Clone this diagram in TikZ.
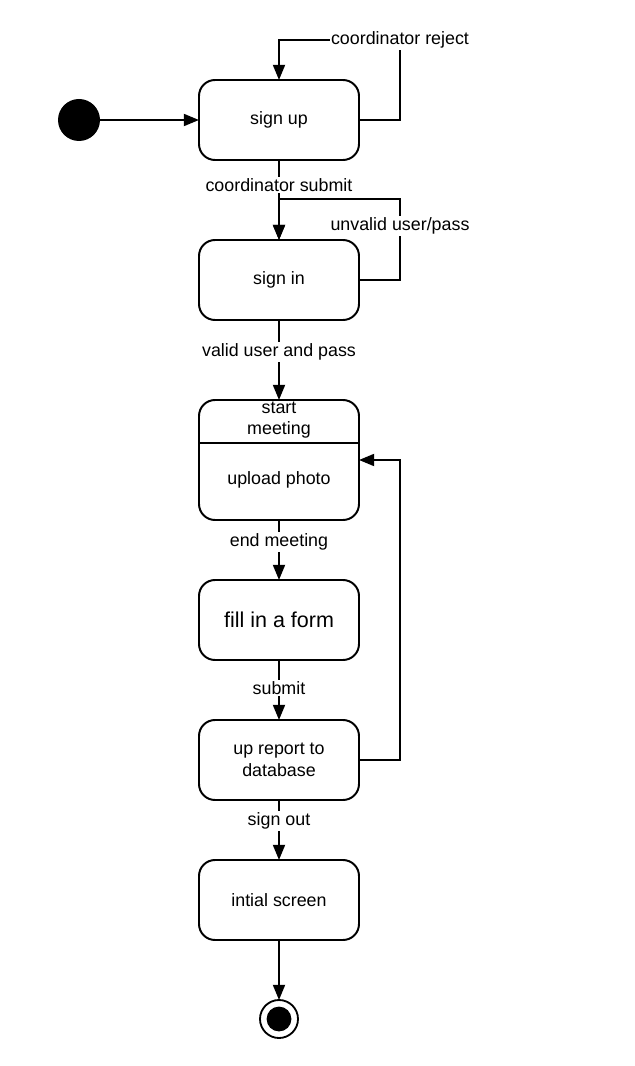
\documentclass[tikz,border=0pt]{standalone}
\usepackage{fontspec}
\setmainfont{Liberation Sans}
\usetikzlibrary{positioning}
\usetikzlibrary{arrows.meta}

\tikzset{
  statebox/.style={draw, line width=1.4pt, outer sep=0pt, rounded corners=0.4cm, minimum width=4cm, minimum height=2cm, align=center, font=\fontsize{12.7}{15.5}\selectfont},
  flow/.style={-{Triangle[length=0.38cm,width=0.3cm]}, line width=1.4pt},
  lbl/.style={fill=white, inner sep=1pt, font=\fontsize{12.7}{15.5}\selectfont},
}

\begin{document}
\begin{tikzpicture}
  \useasboundingbox (0,0) rectangle (15.85,-26.65);
  % nodes %
  \node[circle, fill, minimum size=1.05cm, inner sep=0] (start) at (1.975,-3) {};
  \node[statebox] (signup) at (6.975,-3) {sign up};
  \node[statebox, below=2 of signup] (signin) {sign in};
  \node[statebox, minimum height=3cm, below=2 of signin] (meeting) {};
  \node[lbl, fill=none, align=center] (meetingtop) at ([yshift=-0.5cm]meeting.north) {start\\meeting};
  \node[lbl, fill=none] (meetingbody) at ([yshift=-2cm]meeting.north) {upload photo};
  \node[statebox, below=1.5 of meeting, font=\fontsize{15.3}{19}\selectfont] (form) {fill in a form};
  \node[statebox, below=1.5 of form] (report) {up report to\\database};
  \node[statebox, below=1.5 of report] (screen) {intial screen};
  \node[circle, draw, line width=1.3pt, outer sep=0pt, minimum size=0.95cm, inner sep=0, below=1.5 of screen] (final) {};
  \node[circle, fill, minimum size=0.62cm, inner sep=0] (finaldot) at (final) {};
  \coordinate (rejectcorner) at (10,-1);
  \coordinate (unvalidcorner) at (10,-4.975);
  \coordinate (reportcorner) at (10,-11.5);
  % edges %
  \draw[line width=1.4pt] (meeting.west |- 0,-11.075) -- (meeting.east |- 0,-11.075);
  \draw[flow] (start) -- (signup);
  \draw[flow] (signup.east) -| (rejectcorner) node[lbl] {coordinator reject} -| (signup.north);
  \draw[flow] (signup) -- node[lbl, pos=0.31] {coordinator submit} (signin);
  \draw[flow] (signin.east) -| node[lbl, pos=0.833] {unvalid user/pass} (unvalidcorner) -| (signin.north);
  \draw[flow] (signin) -- node[lbl, pos=0.4] {valid user and pass} (meeting);
  \draw[flow] (meeting) -- node[lbl, pos=0.37] {end meeting} (form);
  \draw[flow] (form) -- node[lbl, pos=0.47] {submit} (report);
  \draw[flow] (report.east) -| (reportcorner) -- (meeting.east |- reportcorner);
  \draw[flow] (report) -- node[lbl, pos=0.35] {sign out} (screen);
  \draw[flow] (screen) -- (final);
\end{tikzpicture}
\end{document}
